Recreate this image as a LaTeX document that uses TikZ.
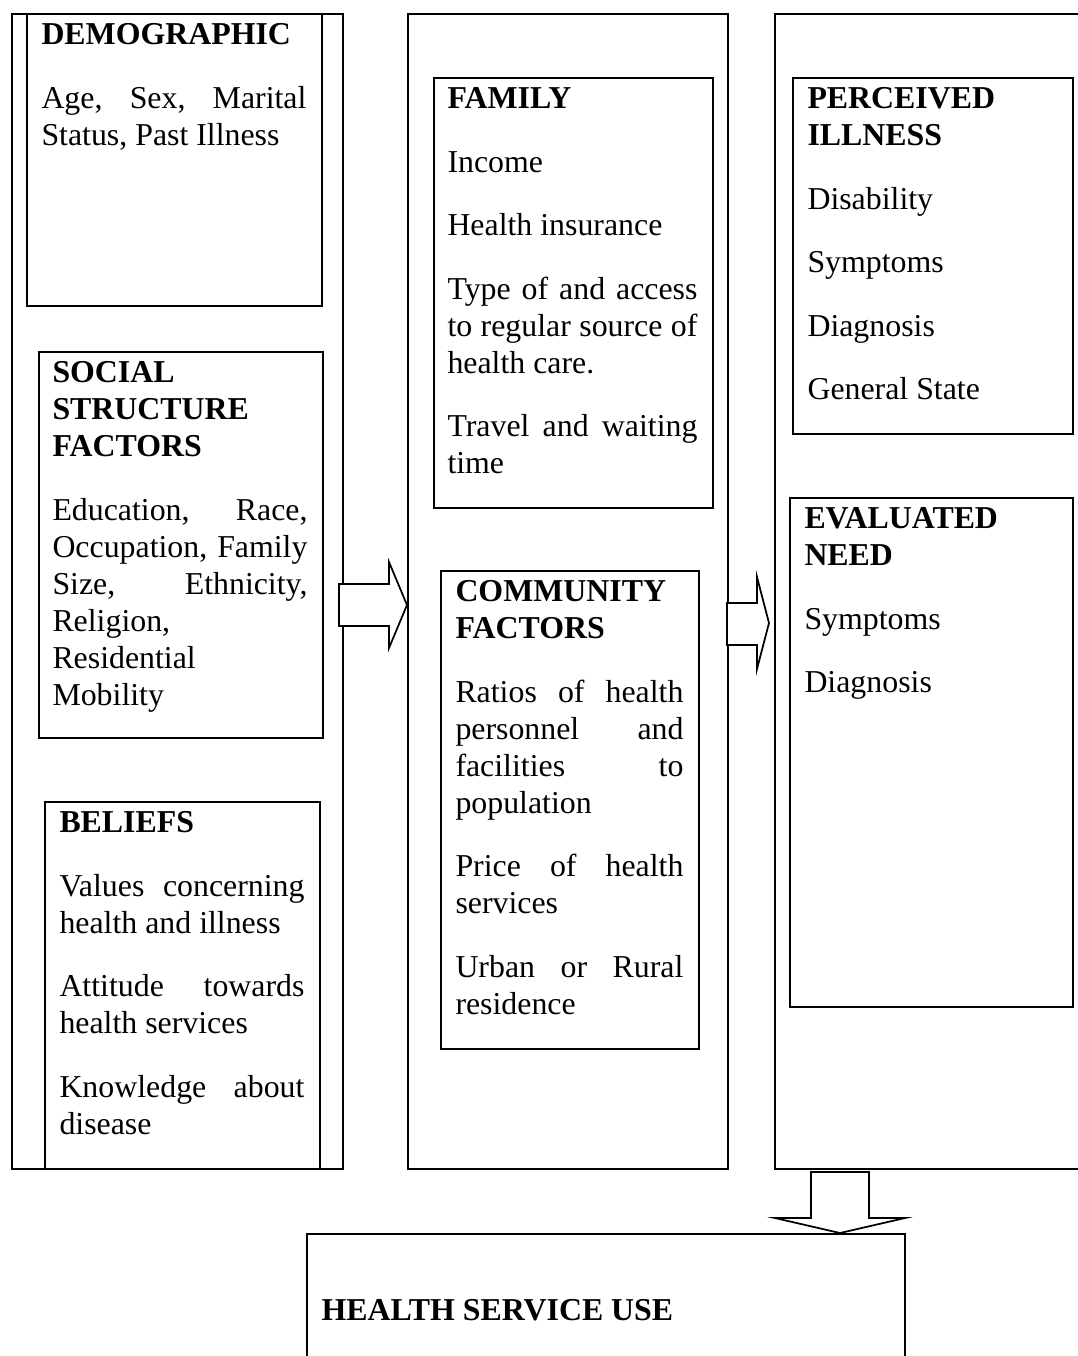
\documentclass[tikz,border=0pt]{standalone}
\usepackage{fontspec}
\setmainfont{Liberation Serif}
\usetikzlibrary{calc}

\tikzset{
  frame/.style={draw, line width=0.9pt, anchor=north west, inner sep=0pt},
  txt/.style={anchor=north west, inner sep=0pt, align=justify, font=\fontsize{12.74}{14.8}\selectfont,
    execute at begin node={\setlength{\parskip}{10.6pt}\hyphenpenalty=10000 \exhyphenpenalty=10000 }},
  blockarrow/.style={draw, line width=0.7pt, fill=white}
}

\begin{document}
\begin{tikzpicture}[x=0.4pt, y=-0.4pt]
\useasboundingbox (0,0) rectangle (1078,1356);
\node [frame, minimum width=132.4pt, minimum height=462pt] (colL) at (11,13) {};
\node [frame, minimum width=128pt, minimum height=462pt] (colM) at (407,13) {};
\node [frame, minimum width=128pt, minimum height=462pt] (colR) at (774,13) {};
\node [frame, minimum width=118pt, minimum height=116.8pt] (demo) at (26,13) {};
\node [frame, minimum width=113.6pt, minimum height=154.4pt] (social) at (38,351) {};
\node [frame, minimum width=110pt, minimum height=146.8pt] (beliefs) at (44,801) {};
\node [frame, minimum width=111.6pt, minimum height=172pt] (family) at (433,77) {};
\node [frame, minimum width=103.2pt, minimum height=191.2pt] (community) at (440,570) {};
\node [frame, minimum width=112pt, minimum height=142.4pt] (perceived) at (792,77) {};
\node [frame, minimum width=113.2pt, minimum height=203.6pt] (evaluated) at (789,497) {};
\node [frame, minimum width=239.2pt, minimum height=56pt] (use) at (306,1233) {};

\node [txt, text width=106pt] (demoT) at ($(demo.north west)+(15,10)$) {\textbf{DEMOGRAPHIC}\par Age, Sex, Marital\linebreak Status, Past Illness};
\node [txt, text width=102pt] (socialT) at ($(social.north west)+(14,10)$) {\textbf{SOCIAL\newline STRUCTURE\newline FACTORS}\par Education, Race,\linebreak Occupation, Family\linebreak Size, Ethnicity,\linebreak Religion,\newline Residential\newline Mobility};
\node [txt, text width=98pt] (beliefsT) at ($(beliefs.north west)+(15,10)$) {\textbf{BELIEFS}\par Values concerning\linebreak health and illness\par Attitude towards\linebreak health services\par Knowledge about\linebreak disease};
\node [txt, text width=100pt] (familyT) at ($(family.north west)+(14,10)$) {\textbf{FAMILY}\par Income\par Health insurance\par Type of and access\linebreak to regular source of\linebreak health care.\par Travel and waiting\linebreak time};
\node [txt, text width=91.2pt] (communityT) at ($(community.north west)+(15,10)$) {\textbf{COMMUNITY\newline FACTORS}\par Ratios of health\linebreak personnel and\linebreak facilities to\linebreak population\par Price of health\linebreak services\par Urban or Rural\linebreak residence};
\node [txt, text width=100pt] (perceivedT) at ($(perceived.north west)+(15,10)$) {\textbf{PERCEIVED\newline ILLNESS}\par Disability\par Symptoms\par Diagnosis\par General State};
\node [txt, text width=101.2pt] (evaluatedT) at ($(evaluated.north west)+(15,10)$) {\textbf{EVALUATED\newline NEED}\par Symptoms\par Diagnosis};
\node [txt, anchor=base west] (useT) at ($(use.north west)+(15,87)$) {\textbf{HEALTH SERVICE USE}};

\coordinate (tipA) at (colM.west |- 0,605);
\coordinate (tipB) at ($(colR.west |- 0,623)+(-5,0)$);
\coordinate (tipC) at (840,0 |- use.north);
\draw [blockarrow] (tipA) -- ++(-18,-43) -- ++(0,22) -- ++(-50,0) -- ++(0,42) -- ++(50,0) -- ++(0,22) -- cycle;
\draw [blockarrow] (tipB) -- ++(-12,-46) -- ++(0,26) -- ++(-30,0) -- ++(0,42) -- ++(30,0) -- ++(0,24) -- cycle;
\draw [blockarrow] (tipC) -- ++(-65,-15) -- ++(36,0) -- ++(0,-46) -- ++(58,0) -- ++(0,46) -- ++(36,0) -- cycle;
\end{tikzpicture}
\end{document}
